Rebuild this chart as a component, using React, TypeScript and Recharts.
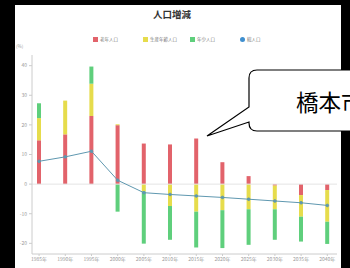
import React from 'react';
import { ComposedChart, Bar, Line, XAxis, YAxis, ReferenceLine } from 'recharts';

const years = ['1985年', '1990年', '1995年', '2000年', '2005年', '2010年', '2015年', '2020年', '2025年', '2030年', '2035年', '2040年'];
const elderly = [14.8, 16.8, 23.0, 19.9, 13.7, 13.4, 15.4, 7.4, 2.7, -0.5, -3.7, -2.0];
const working = [7.5, 11.4, 10.9, 0.3, -2.5, -7.4, -9.3, -8.8, -8.5, -8.0, -7.3, -10.7];
const young = [5.0, 0, 5.8, -9.3, -17.6, -11.4, -12.1, -12.8, -12.0, -10.3, -8.4, -7.5];
const total = [7.7, 9.2, 11.1, 1.3, -2.9, -3.5, -4.0, -4.5, -5.1, -5.7, -6.3, -7.2];
const yTicks = [-20, -10, 0, 10, 20, 30, 40];
const legendItems = [
  { name: '老年人口', color: '#e2636b', shape: 'rect' },
  { name: '生産年齢人口', color: '#e6dc4c', shape: 'rect' },
  { name: '年少人口', color: '#5fcf7c', shape: 'rect' },
  { name: '総人口', color: '#3f8fcf', shape: 'circle' },
];

const data = years.map((y, i) => ({
  idx: i,
  year: y,
  elderly: elderly[i],
  working: working[i],
  young: young[i],
  total: total[i],
}));

const FONT = '"Noto Sans CJK JP", "Noto Sans", sans-serif';
const legendX = [93, 143, 190, 240];

export default function App() {
  return (
    <div style={{ position: 'fixed', left: 0, top: 0, width: 350, height: 268, background: '#000', overflow: 'hidden', fontFamily: FONT }}>
      <div style={{ position: 'absolute', left: 15, top: 5, width: 326, height: 263, background: '#fff' }}>
        <ComposedChart
          width={326}
          height={263}
          data={data}
          stackOffset="sign"
          margin={{ top: 50, right: 4, bottom: 2, left: 0 }}
        >
          <XAxis
            dataKey="idx"
            type="number"
            domain={[-0.27, 11.37]}
            ticks={data.map((d) => d.idx)}
            tickFormatter={(v) => years[v] ?? ''}
            interval={0}
            height={12}
            tickSize={2}
            tickMargin={1}
            tick={{ fontSize: 5, fill: '#999', fontFamily: FONT }}
            axisLine={{ stroke: '#ccc' }}
            tickLine={{ stroke: '#ccc' }}
            allowDataOverflow
          />
          <YAxis
            type="number"
            domain={[-23.6, 43.6]}
            ticks={yTicks}
            width={17}
            tickSize={3}
            tickMargin={2}
            tick={{ fontSize: 5, fill: '#999', fontFamily: FONT }}
            axisLine={{ stroke: '#ccc' }}
            tickLine={{ stroke: '#ccc' }}
            allowDataOverflow
          />
          <ReferenceLine y={0} stroke="#e4e4e4" />
          <Bar dataKey="elderly" stackId="a" fill="#e2636b" barSize={4} isAnimationActive={false} />
          <Bar dataKey="working" stackId="a" fill="#e6dc4c" barSize={4} isAnimationActive={false} />
          <Bar dataKey="young" stackId="a" fill="#5fcf7c" barSize={4} isAnimationActive={false} />
          <Line
            dataKey="total"
            stroke="#5f98b0"
            strokeWidth={1}
            dot={{ r: 1.3, fill: '#5f98b0', stroke: '#5f98b0' }}
            isAnimationActive={false}
          />
        </ComposedChart>
      </div>
      <div style={{ position: 'absolute', left: 0, width: 350, top: 8, textAlign: 'center', fontSize: 9.5, fontWeight: 700, color: '#333', lineHeight: '12px' }}>
        <span style={{ position: 'relative', left: -3 }}>人口増減</span>
      </div>
      {legendItems.map((it, i) => (
        <div key={it.name} style={{ position: 'absolute', left: legendX[i], top: 35, height: 8, display: 'flex', alignItems: 'center', fontSize: 4.5, color: '#777', whiteSpace: 'nowrap' }}>
          <span style={{ display: 'inline-block', width: 5, height: 5, background: it.color, borderRadius: it.shape === 'circle' ? '50%' : 0, marginRight: 2 }} />
          <span>{it.name}</span>
        </div>
      ))}
      <div style={{ position: 'absolute', left: 16, top: 43, fontSize: 4.5, color: '#999' }}>(%)</div>
      <svg style={{ position: 'absolute', left: 0, top: 0 }} width={350} height={268}>
        <path
          d="M 257 70 L 360 70 L 360 131 L 257 131 Q 249 131 249 123 L 249 122 L 207 136 L 249 107 L 249 78 Q 249 70 257 70 Z"
          fill="#fff"
          stroke="#000"
          strokeWidth={1.2}
        />
        <text x={296} y={111} fontSize={22.5} fill="#000" fontFamily={FONT}>橋本市</text>
      </svg>
    </div>
  );
}
